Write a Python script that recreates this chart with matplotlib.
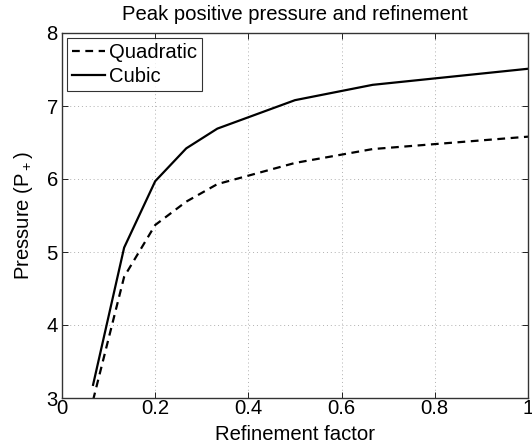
import matplotlib
matplotlib.use("Agg")
import matplotlib.pyplot as plt
from matplotlib.ticker import FuncFormatter

plt.rcParams['font.family'] = ['Liberation Sans', 'DejaVu Sans']
plt.rcParams['mathtext.fontset'] = 'custom'
plt.rcParams['mathtext.rm'] = 'Liberation Sans'

refinement = [1/15, 2/15, 3/15, 4/15, 5/15, 1/2, 2/3, 1.0]
quadratic = [2.97, 4.66, 5.37, 5.69, 5.93, 6.22, 6.41, 6.58]
cubic = [3.18, 5.06, 5.97, 6.42, 6.69, 7.08, 7.29, 7.51]

xticks = [0, 0.2, 0.4, 0.6, 0.8, 1.0]
yticks = [3, 4, 5, 6, 7, 8]

FS = 14.6

fig = plt.figure(figsize=(5.32, 4.46), dpi=100)
ax = fig.add_axes([62/532, 1 - 398/446, 466/532, 365/446])

ax.plot(refinement, quadratic, color='black', lw=1.6, ls=(0, (3.5, 2.5)), label='Quadratic')
ax.plot(refinement, cubic, color='black', lw=1.6, ls='-', label='Cubic')

ax.set_xlim(0, 1)
ax.set_ylim(3, 8)
ax.set_xticks(xticks)
ax.set_yticks(yticks)
ax.xaxis.set_major_formatter(FuncFormatter(lambda v, p: f"{v:g}"))
ax.grid(True, color='#b0b0b0', ls=(0, (1, 3)), lw=0.7)
ax.tick_params(direction='in', length=4, width=0.6, labelsize=FS, pad=3,
               top=True, right=True, colors='black')
ax.tick_params(axis='x', pad=1)
for s in ax.spines.values():
    s.set_linewidth(1.0)
    s.set_color('#333333')

ax.set_title('Peak positive pressure and refinement', fontsize=FS, pad=9.5)
ax.set_xlabel('Refinement factor', fontsize=FS, labelpad=5)
ax.set_ylabel('Pressure (P$_+$)', fontsize=FS, labelpad=8)

leg = ax.legend(loc='upper left', fontsize=FS, frameon=True, fancybox=False,
                edgecolor='black', borderaxespad=0.25, handlelength=1.6,
                handletextpad=0.2, borderpad=0.25, labelspacing=0.25)
leg.get_frame().set_linewidth(0.8)

fig.savefig('out.png', dpi=100)
